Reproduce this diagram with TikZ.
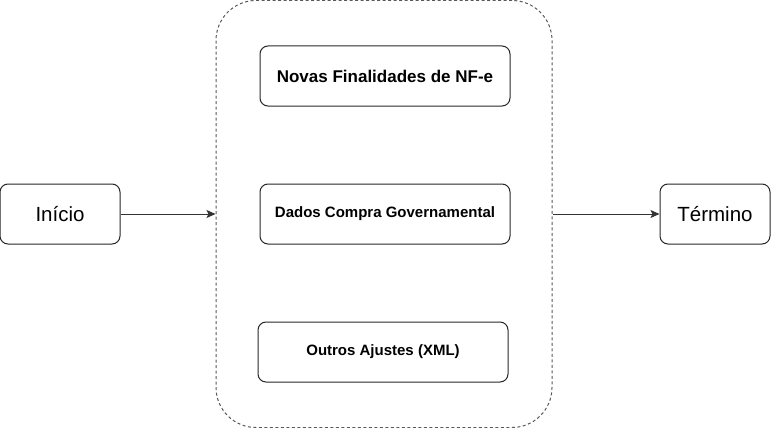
\documentclass[tikz,border=0pt]{standalone}
\usepackage{fontspec}
\setmainfont{Liberation Sans}
\usepackage{tikz}
\usetikzlibrary{arrows}
\usetikzlibrary{arrows.meta}
\usetikzlibrary{positioning}
\tikzstyle{debutfin}=[rectangle,draw=black!85,line width=1pt,rounded corners=8pt,minimum width=110pt,minimum height=60pt,inner sep=0pt,font=\fontsize{20.5}{23}\selectfont]
\tikzstyle{etape}=[rectangle,draw=black!85,line width=1pt,rounded corners=8pt,minimum width=250pt,minimum height=60pt,inner sep=0pt,font=\bfseries]
\tikzstyle{bloc}=[rectangle,draw=black!65,line width=1pt,dash pattern=on 3pt off 2.5pt,rounded corners=40pt,minimum width=336pt,minimum height=427pt,inner sep=0pt]
\tikzstyle{suite}=[-{Stealth[length=9pt,width=8pt,inset=2pt]},line width=1pt,black!80]

\begin{document}
\begin{tikzpicture}[x=1pt,y=-1pt]
\useasboundingbox (0,0) rectangle (771,428);
\node[bloc] (bloc) at (384,214) {};
\node[debutfin,minimum width=120pt] (a) at (60,214) {Início};
\node[etape,font=\fontsize{17}{19}\selectfont\bfseries] (b) at (385,76) {Novas Finalidades de NF-e};
\node[etape,font=\fontsize{15}{17}\selectfont\bfseries] (c) at (385,214) {Dados Compra Governamental};
\node[etape,font=\fontsize{15}{17}\selectfont\bfseries] (d) at (383,352) {Outros Ajustes (XML)};
\node[debutfin] (e) at (715,214) {Término};
%fleches
\draw[suite] (a) -- (bloc);
\draw[suite] (bloc) -- (e);
\end{tikzpicture}
\end{document}
